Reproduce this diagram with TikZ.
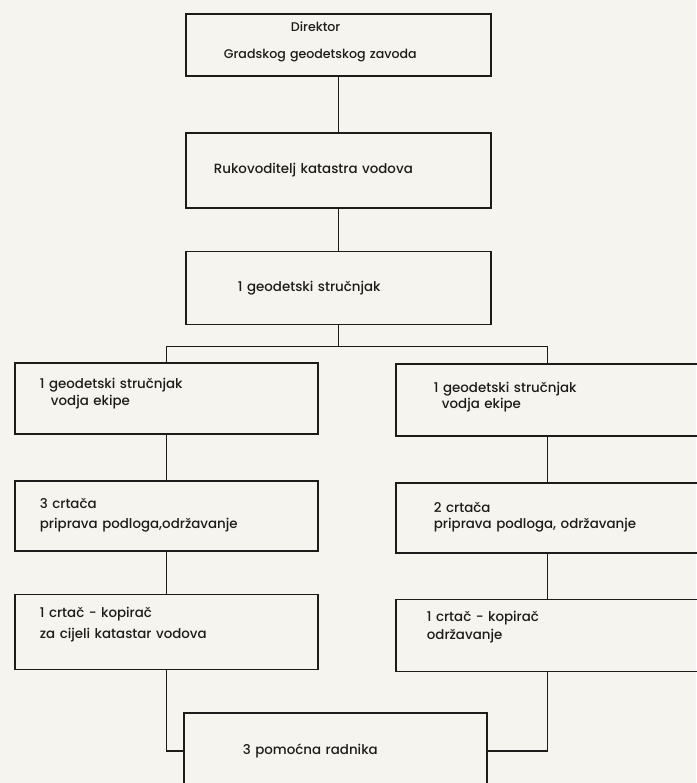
\documentclass[tikz,border=0pt]{standalone}
\usepackage{fontspec}
\setmainfont{Poppins}[UprightFont=* Medium]
\usetikzlibrary{positioning}
\definecolor{inkgray}{RGB}{30,28,26}
\definecolor{paperbg}{RGB}{246,244,238}

\begin{document}
\begin{tikzpicture}[x=1pt, y=-1pt, node distance=45pt,
    block/.style={rectangle, draw=inkgray, line width=1.8pt, text=inkgray, align=left, inner ysep=0pt, font=\fontsize{13.4}{18}\selectfont},
    head/.style={block, inner xsep=#1, text width=305pt-2*#1},
    unit/.style={block, inner xsep=#1, text width=303pt-2*#1},
    line/.style={draw=inkgray, line width=1.8pt}]

    \fill[paperbg] (0,0) rectangle (696,783);
    \useasboundingbox (0,0) rectangle (696,783);

    \node [head=38pt, minimum height=62pt, text depth=37pt, font=\fontsize{12.6}{18}\selectfont, anchor=north west] (dir) at (185,13) {\hspace*{67pt}Direktor\\[9pt]Gradskog geodetskog zavoda};
    \node [head=28pt, minimum height=75pt, below=55pt of dir] (ruk) {Rukovoditelj katastra vodova};
    \node [head=52pt, minimum height=73pt, below=42pt of ruk] (geo) {1 geodetski stručnjak};

    \node [unit=25pt, minimum height=71pt, text depth=30pt, anchor=north west] (lvod) at (14,362) {1 geodetski stručnjak\\[-1pt]\hspace*{11pt}vodja ekipe};
    \node [unit=25pt, minimum height=70pt, below=of lvod] (lcrt) {3 crtača\\[2pt]priprava podloga,održavanje};
    \node [unit=25pt, minimum height=75pt, text depth=39pt, below=42pt of lcrt] (lkop) {1 crtač - kopirač\\[3pt]za cijeli katastar vodova};

    \node [unit=38pt, minimum height=72pt, text depth=25pt, anchor=north west] (rvod) at (395,363) {1 geodetski stručnjak\\[-2pt]\hspace*{8pt}vodja ekipe};
    \node [unit=38pt, minimum height=70pt, below=of rvod] (rcrt) {2 crtača\\[-2pt]priprava podloga, održavanje};
    \node [unit=31pt, minimum height=72pt, text depth=39pt, below=of rcrt] (rkop) {1 crtač - kopirač\\održavanje};

    \node [unit=59pt, minimum height=76pt, anchor=north west] (radn) at (183,712) {3 pomoćna radnika};

    \path [line] (dir) -- (ruk);
    \path [line] (ruk) -- (geo);
    \path [line] (geo.south) -- ++(0,21) coordinate (fork);
    \path [line] (lvod.north) |- (fork) -| (rvod.north);
    \path [line] (lvod) -- (lcrt);
    \path [line] (lcrt) -- (lkop);
    \path [line] (rvod) -- (rcrt);
    \path [line] (rcrt) -- (rkop);
    \path [line] (lkop.south) |- (radn.west);
    \path [line] (rkop.south) |- (radn.east);
\end{tikzpicture}
\end{document}
